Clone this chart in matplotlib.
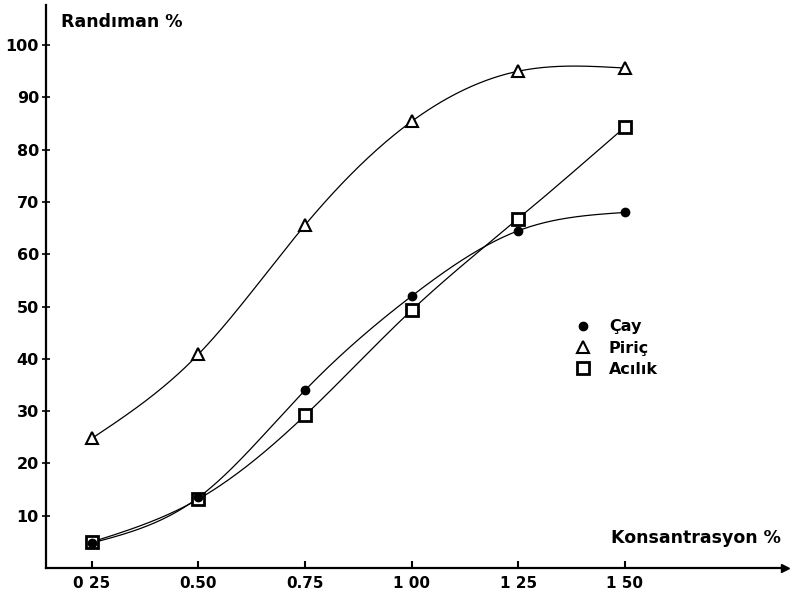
import numpy as np
import matplotlib.pyplot as plt

konsantrasyon = [0.25, 0.50, 0.75, 1.00, 1.25, 1.50]
cay = [4.8, 13.5, 34.0, 52.0, 64.5, 68.0]
piric = [24.8, 40.9, 65.6, 85.4, 95.0, 95.6]
acilik = [5.0, 13.2, 29.2, 49.3, 66.8, 84.3]

x_ticks = [0.25, 0.50, 0.75, 1.00, 1.25, 1.50]
x_ticklabels = ["0 25", "0.50", "0.75", "1 00", "1 25", "1 50"]
y_ticks = [10, 20, 30, 40, 50, 60, 70, 80, 90, 100]


def natural_spline(x, y, xs):
    # smooth curve through the measured points (natural cubic spline)
    x = np.asarray(x, float)
    y = np.asarray(y, float)
    n = len(x)
    h = np.diff(x)
    A = np.zeros((n, n))
    b = np.zeros(n)
    A[0, 0] = A[-1, -1] = 1
    for i in range(1, n - 1):
        A[i, i - 1] = h[i - 1]
        A[i, i] = 2 * (h[i - 1] + h[i])
        A[i, i + 1] = h[i]
        b[i] = 6 * ((y[i + 1] - y[i]) / h[i] - (y[i] - y[i - 1]) / h[i - 1])
    M = np.linalg.solve(A, b)
    k = np.clip(np.searchsorted(x, xs) - 1, 0, n - 2)
    t0 = x[k + 1] - xs
    t1 = xs - x[k]
    hk = h[k]
    return (M[k] * t0**3 / (6 * hk) + M[k + 1] * t1**3 / (6 * hk)
            + (y[k] / hk - M[k] * hk / 6) * t0
            + (y[k + 1] / hk - M[k + 1] * hk / 6) * t1)


plt.rcParams["font.family"] = ["DejaVu Sans"]
plt.rcParams["font.weight"] = "bold"

fig = plt.figure(figsize=(7.91, 5.98), dpi=100)
ax = fig.add_axes([0.058, 0.05, 0.934, 0.942])

xs = np.linspace(0.25, 1.5, 300)
ax.plot(xs, natural_spline(konsantrasyon, cay, xs), "k", lw=0.9)
ax.plot(xs, natural_spline(konsantrasyon, piric, xs), "k", lw=0.9)
ax.plot(xs, natural_spline(konsantrasyon, acilik, xs), "k", lw=0.9)

h2, = ax.plot(konsantrasyon, piric, "^", mfc="white", mec="k", mew=1.5, ms=8,
              ls="none", label="Piriç")
h3, = ax.plot(konsantrasyon, acilik, "s", mfc="white", mec="k", mew=2, ms=9,
              ls="none", label="Acılık")
h1, = ax.plot(konsantrasyon, cay, "o", color="k", ms=6, ls="none", label="Çay")

ax.set_xlim(0.142, 1.875)
ax.set_ylim(0, 107.7)
ax.spines["top"].set_visible(False)
ax.spines["right"].set_visible(False)
ax.spines["left"].set_linewidth(1.6)
ax.spines["bottom"].set_linewidth(1.6)

ax.set_xticks(x_ticks)
ax.set_xticklabels(x_ticklabels)
ax.set_yticks(y_ticks)
ax.tick_params(axis="x", direction="in", length=5, width=1.5, labelsize=11, pad=6)
ax.tick_params(axis="y", direction="inout", length=6, width=1.2, labelsize=11.5, pad=2)

# arrows at axis ends
ax.plot(1, 0, ">k", ms=6, transform=ax.get_yaxis_transform(), clip_on=False)
ax.plot(0, 1, "^k", ms=6, transform=ax.get_xaxis_transform(), clip_on=False)

ax.text(0.02, 0.985, "Randıman %", transform=ax.transAxes, fontsize=12.5,
        fontweight="bold", va="top", ha="left")
ax.text(0.995, 0.037, "Konsantrasyon %", transform=ax.transAxes, fontsize=12.5,
        fontweight="bold", va="bottom", ha="right")

ax.legend(handles=[h1, h2, h3], loc="upper left", bbox_to_anchor=(0.708, 0.456),
          frameon=False, fontsize=11.5, handlelength=0.8, handletextpad=1.2,
          labelspacing=0.4, borderpad=0)

fig.savefig("out.png", dpi=100)
plt.close(fig)
